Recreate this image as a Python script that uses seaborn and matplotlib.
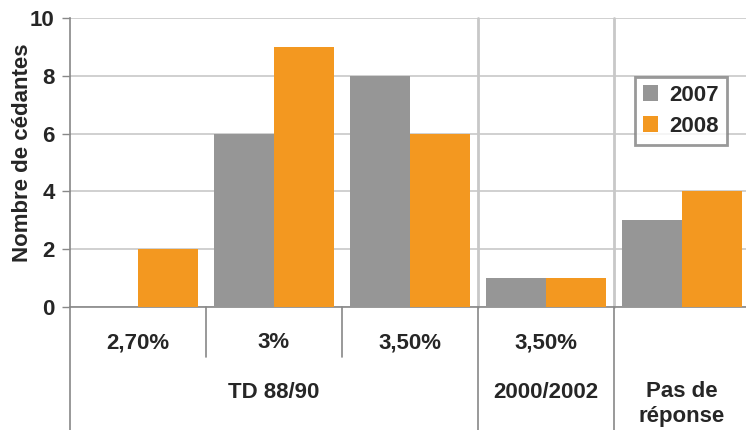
import matplotlib
matplotlib.use("Agg")
import matplotlib.pyplot as plt
from matplotlib import font_manager as fm
import seaborn as sns
import pandas as pd

# ---- data ----
cat_ids = ["td_270", "td_300", "td_350", "p2000_350", "nr"]
rate_labels = ["2,70%", "3%", "3,50%", "3,50%", ""]
group_labels = ["TD 88/90", "2000/2002", "Pas de\nréponse"]
group_spans = [(0, 2), (3, 3), (4, 4)]
years = ["2007", "2008"]
values_2007 = [0, 6, 8, 1, 3]
values_2008 = [2, 9, 6, 1, 4]
y_ticks = [0, 2, 4, 6, 8, 10]

df = pd.DataFrame({
    "cat": cat_ids * 2,
    "year": [years[0]] * len(cat_ids) + [years[1]] * len(cat_ids),
    "value": values_2007 + values_2008,
})

sns.set_theme(style="white")
plt.rcParams["font.family"] = ["Liberation Sans", "DejaVu Sans"]


def bold_font(size):
    path = None
    for f in fm.fontManager.ttflist:
        if f.name == "Liberation Sans" and "Bold" in f.fname and "Italic" not in f.fname:
            path = f.fname
            break
    if path is None:
        return fm.FontProperties(family=["Liberation Sans", "DejaVu Sans"], weight="bold", size=size)
    return fm.FontProperties(fname=path, size=size)


FP = bold_font(16)

W, H = 746, 430
fig = plt.figure(figsize=(W / 100, H / 100), dpi=100)
left_px, right_px, top_px, bot_px = 70, 750, 18, 307
axw = right_px - left_px
axh = bot_px - top_px
ax = fig.add_axes([left_px / W, 1 - bot_px / H, axw / W, axh / H])

GRAY = "#969696"
ORANGE = "#F39820"
sns.barplot(data=df, x="cat", y="value", hue="year", order=cat_ids, hue_order=years,
            palette=[GRAY, ORANGE], width=0.882, saturation=1, ax=ax, legend=True,
            edgecolor="none", linewidth=0, zorder=3)

ax.set_xlim(-0.5, len(cat_ids) - 0.5)
ax.set_ylim(0, 10)
ax.set_yticks(y_ticks)
ax.set_yticklabels([str(t) for t in y_ticks], fontproperties=FP)
ax.yaxis.grid(True, color="#c8c8c8", linewidth=1.2, zorder=0)
ax.set_axisbelow(True)
ax.tick_params(axis="y", left=True, length=6, color="#888888", width=1, pad=5)

for s in ["top", "right"]:
    ax.spines[s].set_visible(False)
for s in ["left", "bottom"]:
    ax.spines[s].set_color("#888888")
    ax.spines[s].set_linewidth(1.2)

ax.set_xticks(range(len(cat_ids)))
ax.set_xticklabels(rate_labels, fontproperties=FP)
ax.tick_params(axis="x", bottom=False, length=0, pad=18)
ax.set_xlabel("")
ax.set_ylabel("Nombre de cédantes", fontproperties=FP)
ax.yaxis.set_label_coords((23 - left_px) / axw, 1 - (153 - top_px) / axh)
ax.yaxis.label.set_va("center")

tr = ax.get_xaxis_transform()
for x in [0.5, 1.5]:
    ax.plot([x, x], [0, -50 / axh], color="#888888", lw=1.2, transform=tr, clip_on=False)
for x in [2.5, 3.5]:
    ax.plot([x, x], [0, 1], color="#c8c8c8", lw=2, transform=tr, clip_on=False, zorder=1)
    ax.plot([x, x], [0, -(H - bot_px) / axh], color="#888888", lw=1.2, transform=tr, clip_on=False)
ax.plot([-0.5, -0.5], [0, -(H - bot_px) / axh], color="#888888", lw=1.2, transform=tr, clip_on=False)

for lab, (a, b) in zip(group_labels, group_spans):
    y = -(85 if "\n" not in lab else 97) / axh
    ax.text((a + b) / 2, y, lab, transform=tr, ha="center", va="center",
            fontproperties=FP, linespacing=1.3)

leg = ax.legend(loc="upper right", bbox_to_anchor=(727 / W, 1 - 77 / H),
                bbox_transform=fig.transFigure, frameon=True, fancybox=False,
                prop=FP, handlelength=0.7, handleheight=0.7,
                handletextpad=0.5, labelspacing=0.45, borderpad=0.35, borderaxespad=0)
leg.get_frame().set_edgecolor("#808080")
leg.get_frame().set_linewidth(2)
leg.set_title(None)

fig.savefig("out.png", dpi=100)
